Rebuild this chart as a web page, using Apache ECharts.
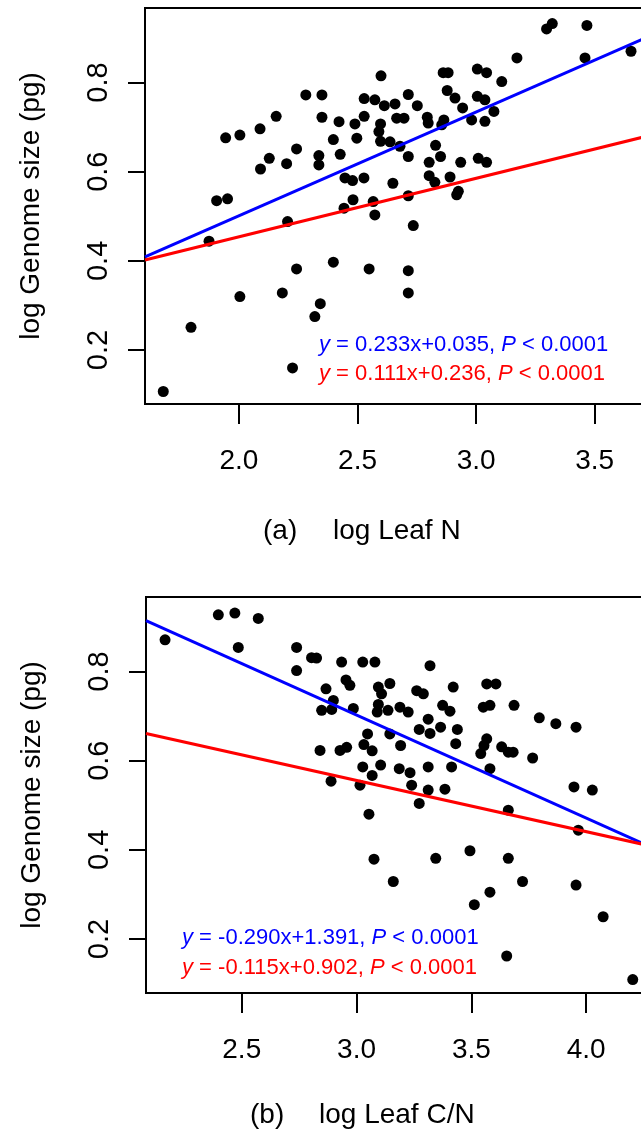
<!DOCTYPE html>
<html>
<head>
<meta charset="utf-8">
<script src="https://cdn.jsdelivr.net/npm/echarts@6/dist/echarts.min.js"></script>
<style>
html,body{margin:0;padding:0;background:#fff;}
#chart{width:641px;height:1135px;}
</style>
</head>
<body>
<div id="chart"></div>
<script>
// ---- Panel (a): log Leaf N vs log Genome size ----
const leafN = [2.599,2.282,2.350,2.528,2.573,2.613,2.157,2.350,2.528,2.422,2.489,2.597,2.590,2.089,2.004,1.944,2.398,2.497,2.597,2.637,2.243,2.128,2.337,2.427,2.201,2.337,2.091,2.447,2.479,2.527,1.906,1.952,2.481,2.566,2.443,2.649,
3.297,3.321,3.467,3.653,3.459,3.172,2.861,2.882,3.005,3.044,3.108,2.714,2.658,2.752,2.878,2.911,3.005,3.037,2.943,3.075,2.665,2.696,2.794,2.798,2.864,2.855,2.981,3.037,2.679,2.829,2.714,2.850,2.802,2.935,3.009,3.044,2.802,2.826,2.890,2.714,2.918,2.925,
2.573,2.205,1.874,2.243,2.398,2.549,2.004,2.183,2.343,2.320,1.798,2.226,1.681,2.735,2.714,2.714];
const genomeA = [0.815,0.772,0.772,0.764,0.761,0.748,0.724,0.722,0.724,0.712,0.707,0.707,0.690,0.696,0.682,0.676,0.672,0.675,0.668,0.667,0.651,0.630,0.636,0.639,0.618,0.615,0.606,0.586,0.580,0.586,0.535,0.539,0.537,0.533,0.518,0.574,
0.920,0.932,0.928,0.870,0.855,0.855,0.822,0.822,0.830,0.822,0.802,0.773,0.752,0.748,0.782,0.765,0.769,0.761,0.743,0.735,0.720,0.720,0.722,0.709,0.716,0.705,0.716,0.713,0.657,0.659,0.634,0.634,0.621,0.621,0.630,0.621,0.591,0.576,0.588,0.546,0.548,0.556,
0.503,0.488,0.444,0.382,0.397,0.382,0.320,0.328,0.304,0.275,0.251,0.160,0.107,0.479,0.378,0.328];
const fitA_blue = [[1.604,0.409],[3.8,0.920]];
const fitA_red  = [[1.604,0.402],[3.8,0.690]];
const ticksA_x = [2.0,2.5,3.0,3.5];

// ---- Panel (b): log Leaf C/N vs log Genome size ----
const leafCN = [2.166,2.398,2.470,2.572,2.485,2.739,2.804,2.826,2.935,3.027,3.080,2.739,2.954,2.971,3.095,3.109,3.145,2.867,2.899,2.848,2.892,2.986,3.095,3.090,3.137,3.048,3.145,2.841,2.928,2.957,3.032,3.068,3.027,3.105,3.068,2.889,3.015,
3.320,3.262,3.291,3.421,3.567,3.607,3.189,3.225,3.375,3.407,3.552,3.581,3.686,3.796,3.868,3.956,3.312,3.273,3.320,3.366,3.439,3.192,3.432,3.567,3.555,3.541,3.632,3.661,3.682,3.767,3.186,3.233,3.312,3.414,3.581,3.240,3.312,3.385,3.947,4.027,
3.273,3.661,3.966,3.345,3.494,3.661,3.160,3.581,3.513,3.723,3.956,4.074,3.654,4.203,3.054,3.076];
const genomeB = [0.871,0.927,0.931,0.919,0.854,0.854,0.831,0.830,0.821,0.821,0.821,0.802,0.781,0.769,0.765,0.750,0.773,0.761,0.735,0.713,0.715,0.717,0.726,0.709,0.713,0.660,0.660,0.623,0.623,0.630,0.636,0.622,0.586,0.590,0.567,0.554,0.545,
0.813,0.757,0.750,0.765,0.772,0.772,0.720,0.709,0.724,0.711,0.720,0.724,0.724,0.696,0.683,0.675,0.693,0.670,0.661,0.675,0.670,0.634,0.638,0.649,0.634,0.616,0.631,0.619,0.619,0.606,0.582,0.573,0.586,0.586,0.582,0.545,0.534,0.536,0.541,0.534,
0.504,0.489,0.444,0.381,0.398,0.381,0.329,0.305,0.277,0.329,0.321,0.250,0.162,0.109,0.480,0.379];
const fitB_blue = [[2.083,0.914],[4.33,0.395]];
const fitB_red  = [[2.083,0.661],[4.33,0.403]];
const ticksB_x = [2.5,3.0,3.5,4.0];

const ticksY = [0.2,0.4,0.6,0.8];
const yLabel = 'log Genome size (pg)';

const FONT = '"Liberation Sans", Arial, sans-serif';
const zip = (a,b) => a.map((v,i)=>[v,b[i]]);

function xAxisCfg(idx, min, max, ticks){
  return {
    type:'value', gridIndex:idx, min:min, max:max,
    axisLine:{show:true, onZero:false, lineStyle:{color:'#000', width:2}},
    axisTick:{show:true, customValues:ticks, length:20, lineStyle:{color:'#000', width:2}},
    axisLabel:{show:true, customValues:ticks, margin:43, fontSize:28, fontFamily:FONT, color:'#000',
      formatter:v=>v.toFixed(1)},
    splitLine:{show:false}
  };
}
function yAxisCfg(idx){
  return {
    type:'value', gridIndex:idx, min:0.079, max:0.967,
    name:yLabel, nameLocation:'middle', nameGap:100, nameRotate:90,
    nameTextStyle:{fontSize:28, fontFamily:FONT, color:'#000'},
    axisLine:{show:true, onZero:false, lineStyle:{color:'#000', width:2}},
    axisTick:{show:true, customValues:ticksY, length:17, lineStyle:{color:'#000', width:2}},
    axisLabel:{show:true, customValues:ticksY, rotate:90, margin:32, fontSize:29, fontFamily:FONT, color:'#000',
      formatter:v=>v.toFixed(1)},
    splitLine:{show:false}
  };
}
function scatter(idx, data){
  return {type:'scatter', xAxisIndex:idx, yAxisIndex:idx, data:data, symbol:'circle', symbolSize:11,
    itemStyle:{color:'#000', opacity:1}, z:2, silent:true};
}
function fit(idx, data, color){
  return {type:'line', xAxisIndex:idx, yAxisIndex:idx, data:data, showSymbol:false, symbol:'none',
    lineStyle:{color:color, width:3}, clip:true, z:3, silent:true};
}
function eqText(x, y, txt, color){
  return {type:'text', x:x, y:y, style:{text:txt, fill:color, font:'22px '+FONT, verticalAlign:'middle',
    rich:{i:{fontStyle:'italic', fontSize:22, fontFamily:FONT, fill:color, color:color}, n:{fontSize:22, fontFamily:FONT, fill:color, color:color}}}};
}
function plainText(x, y, txt){
  return {type:'text', x:x, y:y, style:{text:txt, fill:'#000', font:'28px '+FONT, verticalAlign:'middle'}};
}

const chart = echarts.init(document.getElementById('chart'), null, {renderer:'canvas'});
chart.setOption({
  animation:false,
  backgroundColor:'#fff',
  grid:[
    {left:145, top:8, width:(3.8-1.604)*237.2, height:396, outerBoundsMode:'none', containLabel:false,
     show:true, borderColor:'#000', borderWidth:2, backgroundColor:'transparent'},
    {left:146, top:597, width:(4.33-2.083)*229.6, height:396, outerBoundsMode:'none', containLabel:false,
     show:true, borderColor:'#000', borderWidth:2, backgroundColor:'transparent'}
  ],
  xAxis:[ xAxisCfg(0, 1.604, 3.8, ticksA_x), xAxisCfg(1, 2.083, 4.33, ticksB_x) ],
  yAxis:[ yAxisCfg(0), yAxisCfg(1) ],
  series:[
    scatter(0, zip(leafN, genomeA)),
    fit(0, fitA_blue, '#0000FF'),
    fit(0, fitA_red, '#FF0000'),
    scatter(1, zip(leafCN, genomeB)),
    fit(1, fitB_blue, '#0000FF'),
    fit(1, fitB_red, '#FF0000')
  ],
  graphic:[
    eqText(319, 345, '{i|y}{n| = 0.233x+0.035, }{i|P}{n| < 0.0001}', '#0000FF'),
    eqText(319, 374, '{i|y}{n| = 0.111x+0.236, }{i|P}{n| < 0.0001}', '#FF0000'),
    eqText(182, 938, '{i|y}{n| = -0.290x+1.391, }{i|P}{n| < 0.0001}', '#0000FF'),
    eqText(182, 968, '{i|y}{n| = -0.115x+0.902, }{i|P}{n| < 0.0001}', '#FF0000'),
    plainText(263, 531, '(a)'),
    plainText(333, 531, 'log Leaf N'),
    plainText(250, 1115, '(b)'),
    plainText(319, 1115, 'log Leaf C/N')
  ]
});
</script>
</body>
</html>
